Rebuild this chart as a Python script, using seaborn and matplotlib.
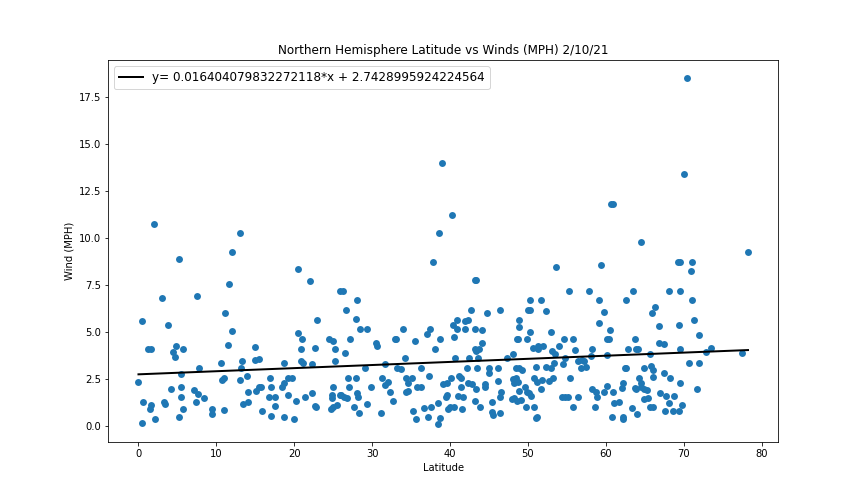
import matplotlib
matplotlib.use('Agg')
import matplotlib.pyplot as plt
import seaborn as sns

# Values (latitude, wind speed in MPH)
lat = [0.04, 0.56, 0.43, 1.24, 1.66, 1.58, 1.71, 2.1, 3.3, 3.5, 4.15, 4.45, 4.79, 4.75, 5.44, 5.44, 5.44, 5.3, 5.69, 5.69,
       7.1, 7.62, 7.36, 7.75, 8.5, 9.42, 9.42, 10.96, 10.7, 10.96, 10.57, 11.47, 12.1, 13.27, 13.14, 13.0, 13.9, 14.04, 13.4, 14.04,
       14.94, 14.94, 15.45, 15.07, 15.45, 15.7, 15.84, 16.86, 17.0, 16.73, 17.5, 17.5, 17.0, 18.66, 18.66, 18.4, 18.66, 19.2, 19.7, 19.2,
       20.2, 19.94, 21.36, 22.25, 22.64, 22.77, 20.46, 22.0, 20.46, 21.0, 20.84, 20.84, 21.2, 22.25, 22.64, 22.9, 24.44, 24.95, 25.3, 25.2,
       24.95, 24.8, 24.8, 24.7, 24.95, 25.5, 25.85,
       1.97, 13.1, 12.0, 5.3, 11.7, 3.0, 7.5, 11.2, 0.55, 3.77,
       40.23, 38.56, 37.8, 53.58, 43.2, 43.35, 25.85, 26.28, 28.03, 26.62, 27.9, 28.4, 29.3, 27.13, 26.5, 29.06, 26.88, 27.9, 27.0,
       25.98, 26.36, 26.75, 28.03, 28.2, 29.3, 27.65, 28.3, 31.1, 30.47, 30.6, 31.63, 31.24, 32.0, 31.63, 29.9, 32.27, 32.65, 32.9, 33.04,
       33.94, 35.48, 34.2, 33.17, 33.68, 34.32, 35.1, 34.58, 34.32, 34.58, 35.73, 36.25, 36.25, 37.28, 35.22, 35.6, 36.63, 37.53, 37.15,
       38.43, 38.69, 38.43, 37.0, 37.4, 38.7, 38.05, 40.36, 40.87, 40.87, 41.9, 42.28, 42.67, 41.9, 43.2, 44.08, 44.72, 46.39, 40.49, 40.6,
       44.08, 43.2, 43.7, 43.35, 42.4, 43.57, 42.15, 43.44, 39.07, 39.6, 40.1, 41.13, 41.38, 42.28, 42.8, 43.3, 41.38, 39.6, 39.46, 41.0,
       41.64, 43.2, 39.7, 39.97, 40.49, 41.5, 43.8, 44.47, 44.47, 44.98, 44.98, 46.14, 46.14, 46.52, 46.39, 45.37, 45.37, 45.5, 46.39,
       47.29, 48.06, 48.83, 48.83, 50.24, 50.24, 51.66, 50.24, 49.99, 52.3, 52.94, 48.75, 48.58, 49.86, 54.6, 50.63, 51.27, 51.27, 51.91,
       53.97, 53.07, 53.45, 54.74, 53.33, 52.3, 52.94, 51.02, 54.48, 50.76, 51.14, 51.79, 52.68, 53.2, 51.66, 48.06, 48.45, 48.19, 48.7,
       48.45, 48.83, 49.22, 49.6, 49.86, 48.83, 50.1, 50.37, 47.93, 48.19, 48.58, 49.1, 49.73, 50.76, 51.02, 51.14, 54.35, 54.74, 55.12,
       55.38, 55.2,
       60.7, 60.89, 64.48, 78.22, 59.35, 69.2, 69.5, 71.03, 70.9, 57.81, 63.46, 68.08, 69.5, 59.09, 62.56, 71.03, 59.73, 66.28, 65.9,
       59.09, 71.29, 60.5, 66.8, 69.36, 71.93, 55.75, 60.12, 60.38, 63.71, 66.8, 67.44, 56.0, 58.19, 62.82, 63.84, 64.1, 69.5, 73.47, 72.83,
       77.45, 65.64, 58.06, 60.12, 56.4, 56.91, 57.17, 56.78, 57.42, 70.65, 71.93, 62.43, 62.56, 64.87, 65.77, 66.03, 67.44, 66.03, 68.21,
       64.23, 62.17, 62.05, 60.12, 64.48, 69.5, 58.19, 58.71, 59.73, 60.89, 63.71, 63.84, 64.48, 65.26, 64.87, 66.93, 67.7, 68.72, 71.68,
       56.4, 58.84, 64.87, 65.38, 61.02, 61.66, 68.08, 69.75, 55.75, 58.58, 63.33, 65.64, 66.03, 67.57, 68.6, 69.36, 63.97, 60.76, 62.17, 62.17,
       39.0, 70.4, 70.0]
wind = [2.32, 1.26, 0.14, 4.08, 4.08, 0.89, 1.1, 0.35, 1.26, 1.15, 1.95, 3.92, 4.24, 3.65, 2.75, 2.06, 1.52, 0.46, 0.89, 4.08,
        1.9, 1.68, 1.26, 3.07, 1.47, 0.89, 0.62, 0.83, 2.43, 2.53, 3.33, 4.29, 5.03, 3.44, 3.07, 2.43, 2.64, 1.79, 1.15, 1.26,
        4.18, 3.49, 3.55, 1.84, 2.06, 2.06, 0.78, 2.53, 2.06, 1.52, 1.52, 1.05, 0.51, 3.33, 0.46, 2.06, 2.27, 2.53, 2.53, 1.63,
        1.31, 0.35, 1.52, 1.74, 1.05, 0.99, 8.33, 7.7, 4.93, 4.61, 4.08, 3.44, 3.33, 3.28, 4.13, 5.62, 4.61, 4.5, 4.08, 3.44,
        2.06, 1.63, 1.47, 0.89, 0.99, 1.1, 1.63,
        10.73, 10.25, 9.24, 8.87, 7.52, 6.79, 6.9, 6.0, 5.57, 5.35,
        11.2, 10.25, 8.7, 8.44, 7.73, 7.76, 7.16, 7.16, 6.68, 6.15, 5.67, 5.14, 5.14, 4.61, 3.86, 3.07, 2.53, 2.53, 2.06,
        1.63, 1.52, 1.47, 1.74, 1.52, 1.15, 0.99, 0.67, 0.67, 4.4, 4.24, 3.28, 2.53, 2.32, 2.16, 2.06, 1.79, 1.31, 4.61, 4.61,
        5.14, 4.5, 3.6, 3.07, 3.0, 2.53, 2.53, 2.27, 1.79, 1.84, 2.06, 2.06, 3.07, 2.64, 0.78, 0.35, 0.94, 0.99, 0.46,
        1.2, 0.41, 0.09, 4.87, 5.14, 4.61, 4.08, 5.35, 5.62, 5.14, 5.57, 5.62, 6.15, 5.14, 5.14, 5.09, 5.99, 6.15, 4.72, 3.6,
        4.4, 4.08, 4.08, 3.97, 3.6, 3.6, 3.07, 3.07, 2.2, 2.27, 2.53, 2.64, 2.53, 2.27, 2.2, 1.95, 2.06, 1.63, 1.52, 1.58,
        1.52, 1.31, 0.89, 0.99, 0.99, 0.89, 0.99, 2.2, 2.06, 3.07, 2.8, 3.07, 2.37, 1.79, 1.52, 1.26, 0.73, 0.57, 0.67,
        3.6, 3.81, 5.62, 5.25, 4.98, 6.68, 6.68, 6.15, 6.15, 6.1, 4.98, 4.61, 4.61, 4.61, 4.61, 4.13, 4.24, 4.08, 4.24,
        4.24, 3.97, 3.81, 3.6, 3.33, 3.12, 3.07, 3.12, 3.28, 2.53, 2.32, 2.43, 2.37, 2.53, 1.95, 2.48, 2.53, 2.27, 2.32,
        3.07, 3.07, 2.96, 2.06, 1.79, 1.84, 1.74, 1.58, 1.42, 1.47, 1.31, 1.36, 0.99, 0.99, 0.41, 0.46, 1.52, 1.52, 1.52,
        2.53, 7.16,
        11.79, 11.79, 9.77, 9.24, 8.55, 8.7, 8.7, 8.7, 8.23, 7.16, 7.16, 7.16, 7.16, 6.68, 6.68, 6.68, 6.05, 6.31, 6.0,
        5.46, 5.62, 5.09, 5.3, 5.35, 4.82, 4.61, 4.61, 4.61, 4.61, 4.4, 4.34, 4.02, 4.08, 4.08, 4.08, 4.08, 4.08, 4.13, 3.92,
        3.86, 3.81, 3.7, 3.76, 3.44, 3.49, 3.44, 3.07, 3.12, 3.33, 3.33, 3.07, 3.07, 3.07, 3.17, 2.96, 2.8, 2.59, 2.53,
        2.53, 2.27, 2.0, 2.11, 2.27, 2.27, 1.95, 1.79, 1.79, 1.79, 2.0, 1.95, 2.06, 1.9, 1.95, 1.74, 1.58, 1.58, 1.95,
        1.52, 1.52, 1.42, 1.47, 1.2, 1.26, 1.2, 1.1, 0.99, 0.99, 0.94, 0.99, 0.99, 0.78, 0.78, 0.78, 0.62, 0.46, 0.46, 0.35,
        13.95, 18.5, 13.4]

# Fitted line, end points only
line_lat = [0.04, 78.22]
line_wind = [2.74, 4.03]
line_label = 'y= 0.016404079832272118*x + 2.7428995924224564'

fig, ax = plt.subplots(figsize=(12, 7), dpi=72)
sns.scatterplot(x=lat, y=wind, color='#1f77b4', s=48, linewidth=0, ax=ax)
sns.lineplot(x=line_lat, y=line_wind, color='black', linewidth=2, label=line_label, ax=ax)

ax.set_title('Northern Hemisphere Latitude vs Winds (MPH) 2/10/21')
ax.set_xlabel('Latitude')
ax.set_ylabel('Wind (MPH)')
ax.legend(loc='upper left', fontsize=12)

fig.subplots_adjust(left=0.125, right=0.901, top=0.88, bottom=0.124)
plt.savefig('out.png')
